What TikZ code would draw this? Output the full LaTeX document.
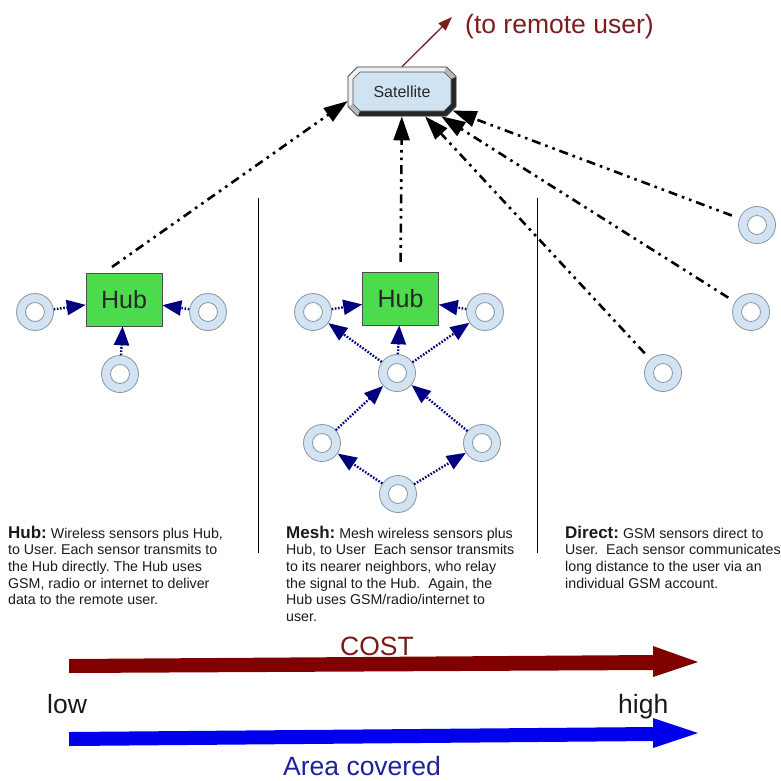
\documentclass[tikz,border=0pt]{standalone}
\usepackage{fontspec}
\setmainfont{Liberation Sans}
\usetikzlibrary{arrows.meta,shapes.misc}

\definecolor{ringfill}{HTML}{D3E3F1}
\definecolor{ringline}{HTML}{8496A6}
\definecolor{hubgreen}{HTML}{4CDB4C}
\definecolor{navylink}{HTML}{00007F}
\definecolor{costred}{HTML}{800000}
\definecolor{costtext}{HTML}{7A1A1A}
\definecolor{areablue}{HTML}{0000EE}
\definecolor{areatext}{HTML}{1F1FA0}
\definecolor{remotered}{HTML}{7B1E1E}
\definecolor{satfill}{HTML}{D0E3F2}
\definecolor{bodytext}{HTML}{1A1A1A}

% bold heading word at the start of each description
\newcommand{\leadword}[1]{{\fontsize{17}{16.7}\selectfont\bfseries #1}}

\tikzset{
  sensor/.style={circle, minimum size=37pt, inner sep=0pt, fill=ringfill,
    draw=ringline, line width=0.8pt,
    path picture={\draw[ringline, line width=0.8pt, fill=white]
      (path picture bounding box.center) circle (9.5pt);}},
  hubbox/.style={rectangle, fill=hubgreen, draw=gray!60!black, line width=0.5pt,
    minimum width=76pt, minimum height=53pt, inner sep=0pt,
    font=\fontsize{25}{30}\selectfont, text=black!85},
  satouter/.style={chamfered rectangle, chamfered rectangle xsep=10pt,
    minimum width=108pt, minimum height=49pt, inner sep=0pt,
    draw=black!80, line width=0.6pt,
    font=\fontsize{16}{19}\selectfont, text=black!85},
  satlink/.style={draw=black, line width=2.6pt,
    dash pattern=on 9pt off 5pt on 2.6pt off 5pt on 2.6pt off 5pt,
    -{Triangle[length=24pt,width=16pt]}},
  meshlink/.style={draw=navylink, line width=2.4pt,
    dash pattern=on 1.6pt off 1.6pt,
    -{Triangle[length=19pt,width=15pt]}},
  remotelink/.style={draw=remotered, line width=1.3pt,
    -{Triangle[length=14pt,width=10pt]}},
  divider/.style={draw=black, line width=1pt},
  bigword/.style={inner sep=0pt, anchor=base west, font=\fontsize{26.5}{30}\selectfont},
  para/.style={inner sep=0pt, anchor=north west, align=left, text=bodytext,
    font=\fontsize{14.2}{16.7}\selectfont\frenchspacing}
}

\begin{document}
\begin{tikzpicture}[x=1pt,y=-1pt]
\useasboundingbox (0,0) rectangle (781,780);

% satellite: bevelled octagonal frame (mid grey, light top-left, dark bottom-right)
\fill[gray!55] (358,67) -- (446,67) -- (456,77) -- (456,106) -- (446,116)
  -- (358,116) -- (348,106) -- (348,77) -- cycle;
\fill[gray!12] (348,106) -- (348,77) -- (358,67) -- (446,67)
  -- (444,72) -- (360,72) -- (353,79) -- (353,104) -- cycle;
\fill[black!85] (456,77) -- (456,106) -- (446,116) -- (358,116)
  -- (360,111) -- (444,111) -- (451,104) -- (451,79) -- cycle;
% light blue face
\filldraw[fill=satfill, draw=gray!60!black, line width=0.6pt]
  (360,72) -- (444,72) -- (451,79) -- (451,104) -- (444,111)
  -- (360,111) -- (353,104) -- (353,79) -- cycle;
\node[satouter] (sat) at (402,91.5) {Satellite};

% link to the remote user
\coordinate (remote) at (452,17);
\draw[remotelink] (sat.north) -- (remote);
\node[bigword, text=remotered] (remotetext) at (465,33) {(to remote user)};

% section dividers
\coordinate (divAtop) at (258,198);
\coordinate (divAbot) at (258,553);
\coordinate (divBtop) at (537,198);
\coordinate (divBbot) at (537,553);
\draw[divider] (divAtop) -- (divAbot);
\draw[divider] (divBtop) -- (divBbot);

% --- Hub layout ---
\node[hubbox] (hubA) at (124,299.5) {Hub};
\node[sensor] (aL) at (35,312) {};
\node[sensor] (aR) at (208,312) {};
\node[sensor] (aB) at (120,374) {};
\draw[meshlink] (aL) -- (hubA);
\draw[meshlink] (aR) -- (hubA);
\draw[meshlink] (aB) -- (hubA);

% --- Mesh layout ---
\node[hubbox] (hubB) at (400.5,298.5) {Hub};
\node[sensor] (bLT) at (313,312) {};
\node[sensor] (bRT) at (485,312) {};
\node[sensor] (bC)  at (397,373) {};
\node[sensor] (bLB) at (322,443) {};
\node[sensor] (bRB) at (482,443) {};
\node[sensor] (bB)  at (398,494) {};
\draw[meshlink] (bLT) -- (hubB);
\draw[meshlink] (bRT) -- (hubB);
\draw[meshlink] (bC) -- (hubB);
\draw[meshlink] (bC) -- (bLT);
\draw[meshlink] (bC) -- (bRT);
\draw[meshlink] (bLB) -- (bC);
\draw[meshlink] (bRB) -- (bC);
\draw[meshlink] (bB) -- (bLB);
\draw[meshlink] (bB) -- (bRB);

% --- Direct layout ---
\node[sensor] (cA) at (757,225) {};
\node[sensor] (cB) at (751,312) {};
\node[sensor] (cC) at (663,373) {};

% uplinks to the satellite
\draw[satlink, shorten <=10pt] (hubA.127) -- (sat.190);
\draw[satlink, shorten <=10pt] (hubB.north) -- (sat);
\draw[satlink, shorten <=8pt] (cA) -- (sat);
\draw[satlink, shorten <=8pt] (cB) -- (sat);
\draw[satlink, shorten <=8pt] (cC) -- (sat);

% descriptions
\node[para] (hubtext) at (8,525.5) {\leadword{Hub:} Wireless sensors plus Hub,\\
to User. Each sensor transmits to\\
the Hub directly. The Hub uses\\
GSM, radio or internet to deliver\\
data to the remote user.};
\node[para] (meshtext) at (286,525.5) {\leadword{Mesh:} Mesh wireless sensors plus\\
Hub, to User\ \ Each sensor transmits\\
to its nearer neighbors, who relay\\
the signal to the Hub.\ \ Again, the\\
Hub uses GSM/radio/internet to\\
user.};
\node[para] (directtext) at (565,525.5) {\leadword{Direct:} GSM sensors direct to\\
User.\ \ Each sensor communicates\\
long distance to the user via an\\
individual GSM account.};

% cost and coverage scales
\fill[costred] (69,659) -- (653,655) -- (653,646) -- (698,662) -- (653,677)
  -- (653,670) -- (69,673) -- cycle;
\fill[areablue] (69,732) -- (653,727) -- (653,718) -- (698,733) -- (653,748)
  -- (653,741) -- (69,746) -- cycle;
\node[bigword, text=costtext] (cost) at (340,655) {COST};
\node[bigword, text=black!90] (low) at (47,713) {low};
\node[bigword, text=black!90] (high) at (618,713) {high};
\node[bigword, text=areatext] (area) at (283,775) {Area covered};
\end{tikzpicture}
\end{document}
